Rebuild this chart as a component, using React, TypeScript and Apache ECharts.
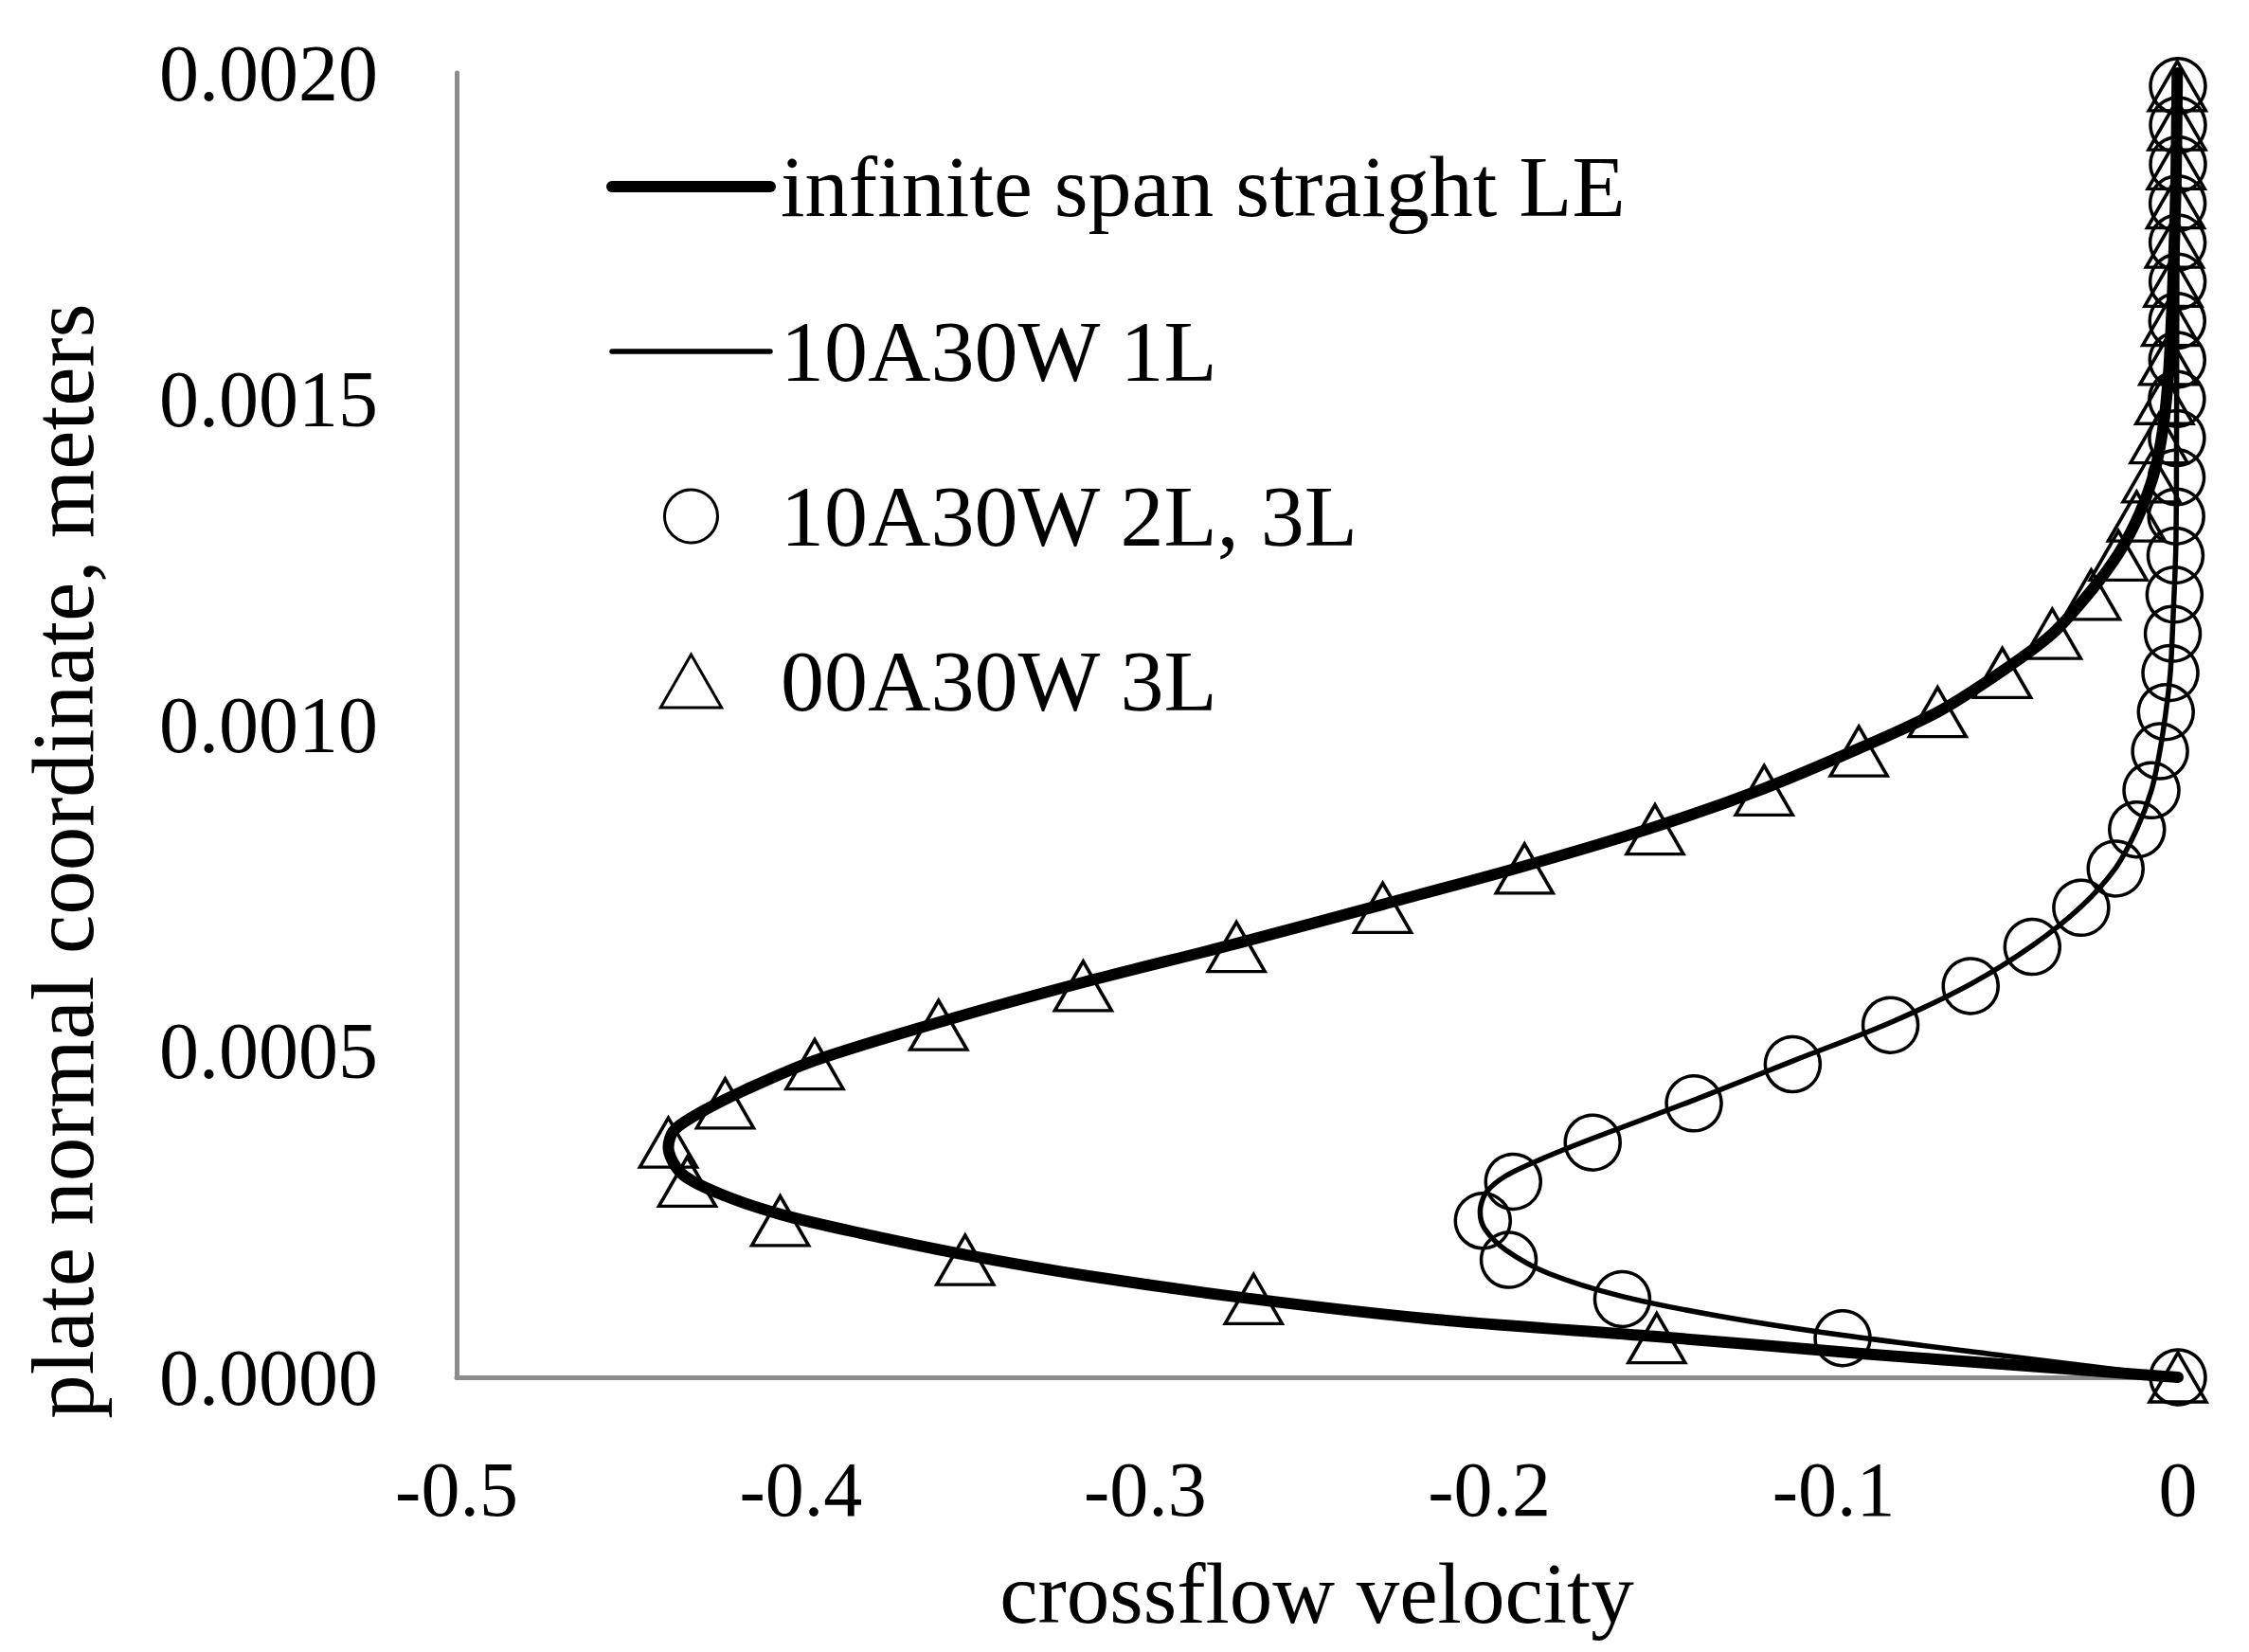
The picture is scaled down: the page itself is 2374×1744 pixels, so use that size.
import React, { useEffect, useRef } from "react";
import * as echarts from "echarts";

// ---------- data (x: crossflow velocity, y: plate normal coordinate in m) ----------
const seriesNames = [
  "infinite span straight LE",
  "10A30W 1L",
  "10A30W 2L, 3L",
  "00A30W 3L",
];

const infiniteSpanLine: [number, number][] = [
  [0, 0],
  [-0.0494, 0.0000195],
  [-0.0911, 0.000036],
  [-0.1514, 0.0000625],
  [-0.2161, 0.000089],
  [-0.2685, 0.00012],
  [-0.316, 0.000155],
  [-0.3523, 0.000188],
  [-0.3827, 0.000221],
  [-0.406, 0.00025],
  [-0.4243, 0.000283],
  [-0.4348, 0.000313],
  [-0.4385, 0.000353],
  [-0.4368, 0.000379],
  [-0.4285, 0.000408],
  [-0.416, 0.000441],
  [-0.3964, 0.000485],
  [-0.3602, 0.000544],
  [-0.3177, 0.000606],
  [-0.2735, 0.000665],
  [-0.231, 0.000725],
  [-0.1898, 0.000784],
  [-0.1519, 0.000844],
  [-0.1202, 0.000903],
  [-0.0927, 0.000964],
  [-0.0698, 0.00102],
  [-0.051, 0.001083],
  [-0.0365, 0.00114],
  [-0.0252, 0.001206],
  [-0.0169, 0.001266],
  [-0.0111, 0.001325],
  [-0.0069, 0.001387],
  [-0.0044, 0.001453],
  [-0.0027, 0.00154],
  [-0.0015, 0.001672],
  [-0.0006, 0.001826],
  [-0.0002, 0.002],
];

const oneLayerLine: [number, number][] = [
  [0, 0],
  [-0.0494, 0.0000325],
  [-0.0974, 0.0000645],
  [-0.1327, 0.0000933],
  [-0.1614, 0.000124],
  [-0.1827, 0.000159],
  [-0.1952, 0.000195],
  [-0.2014, 0.000228],
  [-0.2027, 0.000254],
  [-0.201, 0.000283],
  [-0.1952, 0.000309],
  [-0.1848, 0.000335],
  [-0.1702, 0.000366],
  [-0.1406, 0.000425],
  [-0.1119, 0.000485],
  [-0.0835, 0.000544],
  [-0.0602, 0.000603],
  [-0.0423, 0.000662],
  [-0.0281, 0.000722],
  [-0.0181, 0.000781],
  [-0.0119, 0.000841],
  [-0.0077, 0.0009],
  [-0.0052, 0.000962],
  [-0.0035, 0.001021],
  [-0.0022, 0.001081],
  [-0.0014, 0.001166],
  [-0.0006, 0.001276],
  [-0.0004, 0.001452],
  [-0.0002, 0.002],
];

const twoThreeLayerPoints: [number, number][] = [
  [0, 0],
  [-0.0974, 0.00006],
  [-0.1614, 0.00012],
  [-0.1944, 0.00018],
  [-0.2019, 0.00024],
  [-0.1931, 0.0003],
  [-0.17, 0.00036],
  [-0.1406, 0.00042],
  [-0.1119, 0.00048],
  [-0.0835, 0.00054],
  [-0.0602, 0.0006],
  [-0.0423, 0.00066],
  [-0.0281, 0.00072],
  [-0.0181, 0.00078],
  [-0.0119, 0.00084],
  [-0.0077, 0.0009],
  [-0.0052, 0.00096],
  [-0.0035, 0.00102],
  [-0.0022, 0.00108],
  [-0.0015, 0.00114],
  [-0.001, 0.0012],
  [-0.0007, 0.00126],
  [-0.0005, 0.00132],
  [-0.0004, 0.00138],
  [-0.0003, 0.00144],
  [-0.0003, 0.0015],
  [-0.0002, 0.00156],
  [-0.0002, 0.00162],
  [-0.0001, 0.00168],
  [-0.0001, 0.00174],
  [-0.0001, 0.0018],
  [0, 0.00186],
  [0, 0.00192],
  [0, 0.00198],
];

const zeroZeroPoints: [number, number][] = [
  [0, 0],
  [-0.1514, 0.00006],
  [-0.2685, 0.00012],
  [-0.3523, 0.00018],
  [-0.406, 0.00024],
  [-0.433, 0.0003],
  [-0.4385, 0.00036],
  [-0.422, 0.00042],
  [-0.396, 0.00048],
  [-0.36, 0.00054],
  [-0.318, 0.0006],
  [-0.2735, 0.00066],
  [-0.231, 0.00072],
  [-0.1898, 0.00078],
  [-0.1519, 0.00084],
  [-0.1202, 0.0009],
  [-0.0927, 0.00096],
  [-0.0698, 0.00102],
  [-0.051, 0.00108],
  [-0.0365, 0.00114],
  [-0.0252, 0.0012],
  [-0.0173, 0.00126],
  [-0.012, 0.00132],
  [-0.0077, 0.00138],
  [-0.0055, 0.00144],
  [-0.0039, 0.0015],
  [-0.0028, 0.00156],
  [-0.002, 0.00162],
  [-0.0014, 0.00168],
  [-0.001, 0.00174],
  [-0.0007, 0.0018],
  [-0.0005, 0.00186],
  [-0.0003, 0.00192],
  [-0.0002, 0.00198],
];

const xAxisTitle = "crossflow velocity";
const yAxisTitle = "plate normal coordinate, meters";

// ---------- styling ----------
const FONT = "'Liberation Serif', 'Times New Roman', serif";
const AXIS_GRAY = "#8c8c8c";
const TRIANGLE = "path://M31,0L62,54L0,54Z";

export default function App() {
  const ref = useRef<HTMLDivElement>(null);

  useEffect(() => {
    if (!ref.current) return;
    const chart = echarts.init(ref.current, null, { renderer: "svg" });

    const option: any = {
      animation: false,
      backgroundColor: "#ffffff",
      grid: { left: 482, top: 77, width: 1817, height: 1377, containLabel: false },
      xAxis: {
        type: "value",
        min: -0.5,
        max: 0,
        interval: 0.1,
        axisLine: { show: true, onZero: false, lineStyle: { color: AXIS_GRAY, width: 5 } },
        axisTick: { show: false },
        splitLine: { show: false },
        axisLabel: {
          margin: 77,
          color: "#000",
          fontFamily: FONT,
          fontSize: 82,
          formatter: (v: number) => (Math.abs(v) < 1e-9 ? "0" : v.toFixed(1)),
        },
      },
      yAxis: {
        type: "value",
        min: 0,
        max: 0.002,
        interval: 0.0005,
        axisLine: { show: true, onZero: false, lineStyle: { color: AXIS_GRAY, width: 5 } },
        axisTick: { show: false },
        splitLine: { show: false },
        axisLabel: {
          margin: 83,
          color: "#000",
          fontFamily: FONT,
          fontSize: 84,
          formatter: (v: number) => v.toFixed(4),
        },
      },
      legend: {
        orient: "vertical",
        left: 635,
        top: 146,
        itemWidth: 167,
        itemHeight: 56,
        itemGap: 82,
        selectedMode: false,
        textStyle: {
          color: "#000",
          fontFamily: FONT,
          fontSize: 92,
          lineHeight: 90,
          padding: [0, 0, 0, 6],
        },
        data: [
          { name: seriesNames[0], itemStyle: { opacity: 0 }, lineStyle: { width: 12, cap: "round", color: "#000" } },
          { name: seriesNames[1], itemStyle: { opacity: 0 }, lineStyle: { width: 5.5, cap: "round", color: "#000" } },
          { name: seriesNames[2], itemStyle: { borderWidth: 3, borderColor: "#000", color: "rgba(0,0,0,0)" } },
          { name: seriesNames[3], itemStyle: { borderWidth: 3, borderColor: "#000", color: "rgba(0,0,0,0)" } },
        ],
      },
      graphic: [
        {
          type: "text",
          x: 1390,
          y: 1682,
          style: {
            text: xAxisTitle,
            font: `91px ${FONT}`,
            fill: "#000",
            align: "center",
            verticalAlign: "middle",
          },
        },
        {
          type: "text",
          x: 66,
          y: 909,
          rotation: Math.PI / 2,
          style: {
            text: yAxisTitle,
            font: `93px ${FONT}`,
            fill: "#000",
            align: "center",
            verticalAlign: "middle",
          },
        },
      ],
      series: [
        {
          name: seriesNames[0],
          type: "line",
          data: infiniteSpanLine,
          symbol: "none",
          smooth: 0.3,
          clip: false,
          itemStyle: { color: "#000" },
          lineStyle: { color: "#000", width: 12, cap: "round", join: "round" },
          z: 3,
        },
        {
          name: seriesNames[1],
          type: "line",
          data: oneLayerLine,
          symbol: "none",
          smooth: 0.3,
          clip: false,
          itemStyle: { color: "#000" },
          lineStyle: { color: "#000", width: 5.5, cap: "round", join: "round" },
          z: 3,
        },
        {
          name: seriesNames[2],
          type: "scatter",
          data: twoThreeLayerPoints,
          symbol: "circle",
          symbolSize: 58,
          clip: false,
          itemStyle: { color: "rgba(0,0,0,0)", borderColor: "#000", borderWidth: 3.5, opacity: 1 },
          z: 2,
        },
        {
          name: seriesNames[3],
          type: "scatter",
          data: zeroZeroPoints,
          symbol: TRIANGLE,
          symbolSize: [60, 52],
          clip: false,
          itemStyle: { color: "rgba(0,0,0,0)", borderColor: "#000", borderWidth: 3.5, opacity: 1 },
          z: 2,
        },
      ],
    };

    chart.setOption(option);
    return () => chart.dispose();
  }, []);

  return (
    <div
      ref={ref}
      style={{ position: "fixed", left: 0, top: 0, width: 2374, height: 1744, background: "#fff" }}
    />
  );
}
